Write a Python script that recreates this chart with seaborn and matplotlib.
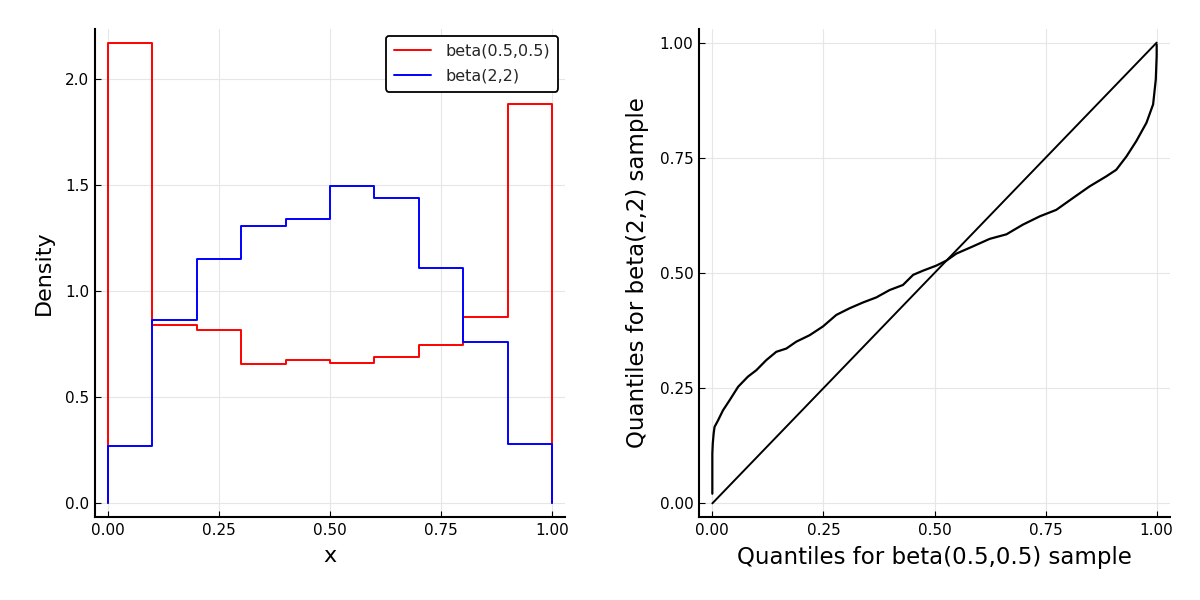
import numpy as np
import pandas as pd
import matplotlib
matplotlib.use("Agg")
import matplotlib.pyplot as plt
import seaborn as sns

# ---- data ----
bin_edges = [0.0, 0.1, 0.2, 0.3, 0.4, 0.5, 0.6, 0.7, 0.8, 0.9, 1.0]
density_beta05 = [2.17, 0.84, 0.816, 0.656, 0.675, 0.662, 0.69, 0.747, 0.877, 1.882]
density_beta22 = [0.269, 0.866, 1.15, 1.307, 1.341, 1.494, 1.437, 1.107, 0.761, 0.280]

qq_x = [0.0, 0.0, 0.001, 0.003, 0.005, 0.0128, 0.024, 0.039, 0.058, 0.080, 0.099, 0.1215, 0.144,
        0.1665, 0.189, 0.219, 0.249, 0.279, 0.309, 0.339, 0.369, 0.399, 0.429,
        0.452, 0.474, 0.504, 0.527, 0.549, 0.587, 0.624, 0.662, 0.699, 0.737,
        0.774, 0.812, 0.849, 0.887, 0.909, 0.932, 0.954, 0.977, 0.992, 0.998,
        1.0, 1.0]
qq_y = [0.021, 0.108, 0.13, 0.152, 0.166, 0.18, 0.202, 0.224, 0.253, 0.275, 0.289, 0.311, 0.329,
        0.336, 0.351, 0.365, 0.384, 0.409, 0.4235, 0.436, 0.447, 0.463, 0.474,
        0.496, 0.505, 0.516, 0.527, 0.542, 0.558, 0.574, 0.584, 0.605, 0.623,
        0.637, 0.663, 0.688, 0.71, 0.724, 0.753, 0.786, 0.826, 0.866, 0.920,
        0.971, 0.996]
ref_line = [0.0, 1.0]

labels = ["beta(0.5,0.5)", "beta(2,2)"]
colors = ["#ff0000", "#0000ff"]

sns.set_theme(style="white")
plt.rcParams['font.family'] = ['DejaVu Sans']


def step_frame(edges, heights):
    xs = [edges[0]] + list(edges[:-1]) + [edges[-1], edges[-1]]
    ys = [0.0] + list(heights) + [heights[-1], 0.0]
    return pd.DataFrame({"x": xs, "y": ys})


fig = plt.figure(figsize=(12, 6), dpi=100)
ax1 = fig.add_axes([0.079, 0.138, 0.392, 0.814])
ax2 = fig.add_axes([0.5825, 0.138, 0.3925, 0.814])

for dens, lab, col in zip([density_beta05, density_beta22], labels, colors):
    df = step_frame(bin_edges, dens)
    sns.lineplot(data=df, x="x", y="y", ax=ax1, sort=False, estimator=None,
                 drawstyle="steps-post", color=col, lw=1.4, label=lab)

ax1.set_xlim(-0.03, 1.03)
ax1.set_ylim(-0.065, 2.235)
ax1.set_xticks([0, 0.25, 0.5, 0.75, 1.0])
ax1.set_xticklabels(["0.00", "0.25", "0.50", "0.75", "1.00"])
ax1.set_yticks([0, 0.5, 1.0, 1.5, 2.0])
ax1.set_yticklabels(["0.0", "0.5", "1.0", "1.5", "2.0"])
ax1.set_xlabel("x", fontsize=16, labelpad=6)
ax1.set_ylabel("Density", fontsize=16, labelpad=8)
leg = ax1.legend(loc="upper right", fontsize=11.5, frameon=True, fancybox=True,
                 framealpha=1, edgecolor="black", borderpad=0.5, handlelength=2.3,
                 labelspacing=0.6, borderaxespad=0.45, handletextpad=0.9)
leg.get_frame().set_linewidth(1.3)

sns.lineplot(x=qq_x, y=qq_y, ax=ax2, sort=False, estimator=None, color="black", lw=1.6)
sns.lineplot(x=ref_line, y=ref_line, ax=ax2, sort=False, estimator=None, color="black", lw=1.4)
ax2.set_xlim(-0.03, 1.03)
ax2.set_ylim(-0.03, 1.03)
ticks = [0, 0.25, 0.5, 0.75, 1.0]
tl = ["0.00", "0.25", "0.50", "0.75", "1.00"]
ax2.set_xticks(ticks)
ax2.set_xticklabels(tl)
ax2.set_yticks(ticks)
ax2.set_yticklabels(tl)
ax2.set_xlabel("Quantiles for beta(0.5,0.5) sample", fontsize=16.5, labelpad=6)
ax2.set_ylabel("Quantiles for beta(2,2) sample", fontsize=16.5, labelpad=8)

for ax in (ax1, ax2):
    ax.grid(True, color="#e6e6e6", lw=0.8)
    ax.set_axisbelow(True)
    for s in ("top", "right"):
        ax.spines[s].set_visible(False)
    for s in ("left", "bottom"):
        ax.spines[s].set_color("black")
        ax.spines[s].set_linewidth(1.5)
    ax.tick_params(axis="both", direction="in", length=4, width=0.8, color="black",
                   labelsize=11, labelcolor="black", pad=4, left=True, bottom=True)
    ax.xaxis.label.set_color("black")
    ax.yaxis.label.set_color("black")

fig.savefig("out.png", dpi=100)
